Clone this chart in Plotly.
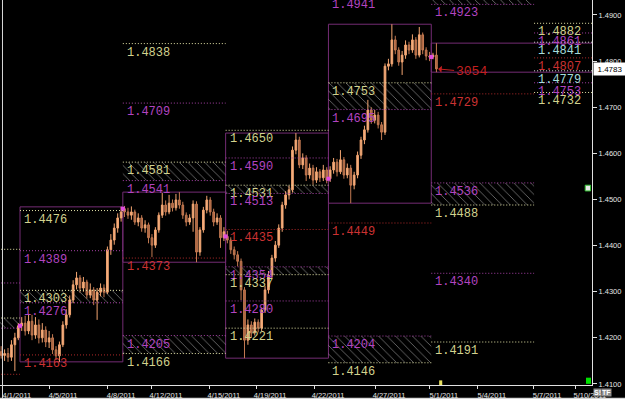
import plotly.graph_objects as go

# ---------------- data ----------------
# 4-hour candles (open, high, low, close)
w0_ohlc = [  # Fri 4/1 session (tail of the prior week)
    (1.4170, 1.4182, 1.4155, 1.4162), (1.4162, 1.4175, 1.4150, 1.4166),
    (1.4166, 1.4178, 1.4148, 1.4158), (1.4158, 1.4195, 1.4150, 1.4185),
    (1.4185, 1.4211, 1.4128, 1.4200), (1.4200, 1.4232, 1.4195, 1.4226),
]
w1_ohlc = [
    (1.4226, 1.4245, 1.4215, 1.4232), (1.4232, 1.4248, 1.4205, 1.4215),
    (1.4215, 1.4252, 1.4208, 1.4236), (1.4236, 1.4250, 1.4195, 1.4206),
    (1.4206, 1.4245, 1.4198, 1.4228), (1.4228, 1.4240, 1.4188, 1.4200),
    (1.4200, 1.4232, 1.4190, 1.4217), (1.4217, 1.4225, 1.4180, 1.4191),
    (1.4191, 1.4215, 1.4178, 1.4200), (1.4200, 1.4208, 1.4165, 1.4174),
    (1.4174, 1.4182, 1.4152, 1.4161), (1.4161, 1.4192, 1.4148, 1.4185),
    (1.4185, 1.4236, 1.4180, 1.4228), (1.4228, 1.4262, 1.4220, 1.4250),
    (1.4250, 1.4292, 1.4244, 1.4282), (1.4282, 1.4325, 1.4275, 1.4315),
    (1.4315, 1.4343, 1.4305, 1.4330), (1.4330, 1.4336, 1.4298, 1.4308),
    (1.4308, 1.4332, 1.4300, 1.4321), (1.4321, 1.4326, 1.4285, 1.4293),
    (1.4293, 1.4318, 1.4286, 1.4304), (1.4304, 1.4310, 1.4271, 1.4282),
    (1.4282, 1.4308, 1.4239, 1.4299), (1.4299, 1.4318, 1.4290, 1.4308),
    (1.4308, 1.4316, 1.4288, 1.4299), (1.4299, 1.4398, 1.4295, 1.4391),
    (1.4391, 1.4425, 1.4380, 1.4412), (1.4412, 1.4448, 1.4402, 1.4438),
    (1.4438, 1.4470, 1.4428, 1.4460), (1.4460, 1.4484, 1.4452, 1.4473),
]
w2_ohlc = [
    (1.4480, 1.4486, 1.4462, 1.4473), (1.4473, 1.4482, 1.4458, 1.4466),
    (1.4466, 1.4485, 1.4456, 1.4473), (1.4473, 1.4478, 1.4445, 1.4451),
    (1.4451, 1.4470, 1.4442, 1.4460), (1.4460, 1.4466, 1.4430, 1.4438),
    (1.4438, 1.4455, 1.4428, 1.4445), (1.4445, 1.4450, 1.4405, 1.4417),
    (1.4417, 1.4425, 1.4375, 1.4401), (1.4401, 1.4440, 1.4395, 1.4434),
    (1.4434, 1.4472, 1.4428, 1.4466), (1.4466, 1.4514, 1.4460, 1.4488),
    (1.4488, 1.4498, 1.4465, 1.4473), (1.4473, 1.4510, 1.4468, 1.4492),
    (1.4492, 1.4500, 1.4474, 1.4482), (1.4482, 1.4512, 1.4476, 1.4499),
    (1.4499, 1.4516, 1.4480, 1.4488), (1.4488, 1.4495, 1.4458, 1.4466),
    (1.4466, 1.4472, 1.4442, 1.4451), (1.4451, 1.4468, 1.4445, 1.4460),
    (1.4460, 1.4498, 1.4430, 1.4490), (1.4490, 1.4496, 1.4364, 1.4386),
    (1.4386, 1.4440, 1.4378, 1.4434), (1.4434, 1.4484, 1.4428, 1.4477),
    (1.4477, 1.4508, 1.4470, 1.4499), (1.4499, 1.4505, 1.4465, 1.4473),
    (1.4473, 1.4480, 1.4442, 1.4451), (1.4451, 1.4470, 1.4445, 1.4460),
    (1.4460, 1.4466, 1.4395, 1.4417), (1.4417, 1.4440, 1.4410, 1.4430),
]
w3_ohlc = [
    (1.4420, 1.4432, 1.4405, 1.4412), (1.4412, 1.4418, 1.4382, 1.4391),
    (1.4391, 1.4398, 1.4370, 1.4380), (1.4380, 1.4388, 1.4355, 1.4366),
    (1.4366, 1.4372, 1.4282, 1.4304), (1.4304, 1.4310, 1.4156, 1.4195),
    (1.4195, 1.4240, 1.4185, 1.4228), (1.4228, 1.4236, 1.4200, 1.4211),
    (1.4211, 1.4242, 1.4205, 1.4234), (1.4234, 1.4240, 1.4212, 1.4221),
    (1.4221, 1.4266, 1.4215, 1.4260), (1.4260, 1.4312, 1.4254, 1.4304),
    (1.4304, 1.4345, 1.4296, 1.4336), (1.4336, 1.4380, 1.4328, 1.4373),
    (1.4373, 1.4410, 1.4365, 1.4401), (1.4401, 1.4446, 1.4395, 1.4438),
    (1.4438, 1.4495, 1.4430, 1.4488), (1.4488, 1.4518, 1.4480, 1.4510),
    (1.4510, 1.4530, 1.4500, 1.4521), (1.4521, 1.4615, 1.4515, 1.4607),
    (1.4607, 1.4644, 1.4598, 1.4629), (1.4629, 1.4636, 1.4568, 1.4575),
    (1.4575, 1.4600, 1.4566, 1.4590), (1.4590, 1.4596, 1.4540, 1.4553),
    (1.4553, 1.4578, 1.4545, 1.4568), (1.4568, 1.4575, 1.4532, 1.4542),
    (1.4542, 1.4570, 1.4536, 1.4560), (1.4560, 1.4566, 1.4538, 1.4547),
    (1.4547, 1.4575, 1.4540, 1.4564), (1.4564, 1.4570, 1.4535, 1.4542),
]
w4_ohlc = [
    (1.4545, 1.4572, 1.4538, 1.4564), (1.4564, 1.4590, 1.4556, 1.4581),
    (1.4581, 1.4588, 1.4550, 1.4560), (1.4560, 1.4607, 1.4555, 1.4586),
    (1.4586, 1.4592, 1.4545, 1.4553), (1.4553, 1.4578, 1.4546, 1.4568),
    (1.4568, 1.4575, 1.4492, 1.4531), (1.4531, 1.4560, 1.4522, 1.4553),
    (1.4553, 1.4604, 1.4546, 1.4596), (1.4596, 1.4636, 1.4588, 1.4629),
    (1.4629, 1.4660, 1.4620, 1.4651), (1.4651, 1.4716, 1.4645, 1.4694),
    (1.4694, 1.4700, 1.4664, 1.4672), (1.4672, 1.4694, 1.4665, 1.4683),
    (1.4683, 1.4690, 1.4654, 1.4662), (1.4662, 1.4668, 1.4629, 1.4646),
    (1.4646, 1.4795, 1.4640, 1.4789), (1.4789, 1.4805, 1.4780, 1.4794),
    (1.4794, 1.4880, 1.4788, 1.4846), (1.4846, 1.4855, 1.4815, 1.4824),
    (1.4824, 1.4830, 1.4790, 1.4798), (1.4798, 1.4822, 1.4770, 1.4813),
    (1.4813, 1.4845, 1.4805, 1.4835), (1.4835, 1.4842, 1.4815, 1.4824),
    (1.4824, 1.4858, 1.4818, 1.4846), (1.4846, 1.4852, 1.4805, 1.4813),
    (1.4813, 1.4874, 1.4808, 1.4857), (1.4857, 1.4862, 1.4815, 1.4824),
    (1.4824, 1.4830, 1.4802, 1.4811), (1.4811, 1.4820, 1.4800, 1.4809),
]
w5_ohlc = [
    (1.4809, 1.4818, 1.4804, 1.4813), (1.4813, 1.4839, 1.4776, 1.4783),
]

# projected weekly levels (price, kind)
lv_w0 = [(1.4392, "upper"), (1.4319, "mid"), (1.4243, "upper"), (1.4221, "mid"), (1.4121, "pivot")]
lv_w1 = [(1.4476, "upper"), (1.4389, "mid"), (1.4303, "upper"), (1.4276, "mid"), (1.4163, "pivot")]
lv_w2 = [(1.4838, "upper"), (1.4709, "mid"), (1.4581, "upper"), (1.4541, "mid"),
         (1.4373, "pivot"), (1.4205, "mid"), (1.4166, "upper")]
lv_w3 = [(1.4650, "upper"), (1.4590, "mid"), (1.4531, "upper"), (1.4513, "mid"), (1.4435, "pivot"),
         (1.4354, "mid"), (1.4337, "upper"), (1.4280, "mid"), (1.4221, "upper")]
lv_w4 = [(1.4941, "mid"), (1.4753, "upper"), (1.4695, "mid"), (1.4449, "pivot"),
         (1.4204, "mid"), (1.4146, "upper")]
lv_w5 = [(1.4923, "mid"), (1.4729, "pivot"), (1.4536, "mid"), (1.4488, "upper"),
         (1.4340, "mid"), (1.4191, "upper")]
lv_month = [(1.4882, "upper"), (1.4861, "mid"), (1.4841, "alt"), (1.4807, "pivot"),
            (1.4779, "alt"), (1.4753, "mid"), (1.4732, "upper")]

# hatched zones (top, bottom)
zn_w0 = [(1.4243, 1.4221)]
zn_w1 = [(1.4303, 1.4276)]
zn_w2 = [(1.4581, 1.4541), (1.4205, 1.4166)]
zn_w3 = [(1.4531, 1.4513), (1.4354, 1.4337)]
zn_w4 = [(1.4753, 1.4695), (1.4204, 1.4146)]
zn_w5 = [(1.4965, 1.4923), (1.4536, 1.4488)]

date_labels = ["4/1/2011", "4/5/2011", "4/8/2011", "4/12/2011", "4/15/2011", "4/19/2011",
               "4/22/2011", "4/27/2011", "5/1/2011", "5/4/2011", "5/7/2011", "5/10/2011"]
date_bar = [-5.0, 8.5, 25.4, 38.5, 55.4, 68.9, 85.8, 103.6, 119.6, 133.6, 149.7, 162.2]
price_ticks = [1.41, 1.42, 1.43, 1.44, 1.45, 1.46, 1.47, 1.48, 1.49]
last_price = 1.4783
arrow_text = "3054"

# ---------------- build ----------------
BARS = 30
weeks = [w0_ohlc, w1_ohlc, w2_ohlc, w3_ohlc, w4_ohlc, w5_ohlc]
first_slot = [24, 0, 0, 0, 0, 0]
week_levels = [lv_w0, lv_w1, lv_w2, lv_w3, lv_w4, lv_w5]
week_zones = [zn_w0, zn_w1, zn_w2, zn_w3, zn_w4, zn_w5]

X_MIN, X_MAX = -5.84, 166.9
Y_MIN, Y_MAX = 1.40978, 1.49325
PX_PER_UNIT = 385 / (Y_MAX - Y_MIN)

LINE_COL = {"upper": "#e2e2a6", "mid": "#a640a6", "pivot": "#b02a2a", "alt": "#dcdcdc"}
TEXT_COL = {"upper": "#d2d28e", "mid": "#b244c0", "pivot": "#cc3232", "alt": "#a6dcdc"}
BOX_COL = "#742c74"
LBL_FONT = "Liberation Mono"

xs, o, h, l, c = [], [], [], [], []
for w, data in enumerate(weeks):
    start = (w - 1) * BARS + first_slot[w]
    for k, (O, H, L, C) in enumerate(data):
        xs.append(start + k + 0.5)
        o.append(O); h.append(H); l.append(L); c.append(C)

fig = go.Figure()

# hatched zones
for w, zl in enumerate(week_zones):
    x0 = (w - 1) * BARS
    for top, bot in zl:
        fig.add_trace(go.Bar(
            x=[x0 + BARS / 2], y=[top - bot], base=[bot], width=[BARS],
            marker=dict(color="rgba(0,0,0,0)", line=dict(width=0),
                        pattern=dict(shape="\\", fgcolor="#e4e4e4", bgcolor="rgba(0,0,0,0)",
                                     size=6, solidity=0.14, fillmode="overlay")),
            hoverinfo="skip"))

fig.add_trace(go.Candlestick(
    x=xs, open=o, high=h, low=l, close=c, whiskerwidth=0,
    increasing=dict(line=dict(color="#f2a470", width=1), fillcolor="#f4b184"),
    decreasing=dict(line=dict(color="#c47a52", width=1), fillcolor="#a8623e"),
    hoverinfo="skip"))

# week open markers
wk_x, wk_y = [], []
for w in range(1, len(weeks)):
    wk_x.append((w - 1) * BARS)
    wk_y.append(weeks[w][0][0])
fig.add_trace(go.Scatter(x=wk_x, y=wk_y, mode="markers", cliponaxis=False,
                         marker=dict(symbol="square", size=4, color="#e04ce0"), hoverinfo="skip"))

shapes, annos = [], []

# weekly range boxes
for w in range(1, len(weeks)):
    x0 = (w - 1) * BARS
    x1 = x0 + BARS if w < len(weeks) - 1 else X_MAX + 5
    hi = max(t[1] for t in weeks[w]); lo = min(t[2] for t in weeks[w])
    shapes.append(dict(type="rect", xref="x", yref="y", x0=x0, x1=x1, y0=lo, y1=hi,
                       line=dict(color=BOX_COL, width=1), fillcolor="rgba(0,0,0,0)", layer="below"))


def add_levels(levels, x0, x1, labels=True):
    for price, kind in levels:
        shapes.append(dict(type="line", xref="x", yref="y", x0=x0, x1=x1, y0=price, y1=price,
                           line=dict(color=LINE_COL[kind], width=1, dash="1px,2px")))
        if not labels:
            continue
        ya, ys = price, 0
        if price > Y_MAX:
            ya, ys = Y_MAX, (price - Y_MAX) * PX_PER_UNIT
        annos.append(dict(x=x0, y=ya, xref="x", yref="y", xanchor="left", yanchor="top",
                          xshift=2, yshift=ys, showarrow=False, text=f"{price:.4f}",
                          font=dict(family=LBL_FONT, size=12, color=TEXT_COL[kind])))


for w, lv in enumerate(week_levels):
    x0 = (w - 1) * BARS
    add_levels(lv, x0, x0 + BARS, labels=x0 >= X_MIN)
add_levels(lv_month, 5 * BARS, X_MAX + 5)

# last price arrow
annos.append(dict(x=xs[-1] + 0.5, y=c[-1], xref="x", yref="y", text=arrow_text, showarrow=True,
                  ax=33, ay=3, arrowcolor="#c42020", arrowwidth=1, arrowhead=1, arrowsize=1.2,
                  standoff=0, font=dict(family=LBL_FONT, size=13, color="#c42020")))
# last price box
annos.append(dict(x=1, y=last_price, xref="paper", yref="y", xanchor="left", xshift=1,
                  text=f"{last_price:.4f}", showarrow=False, bgcolor="#ffffff", width=30, height=10,
                  font=dict(family="Arial", size=8, color="#000000")))
# corner buttons
for txt, dx in (("S!", 1), ("TF", 9)):
    annos.append(dict(x=1, y=0, xref="paper", yref="paper", xanchor="left", yanchor="top",
                      xshift=dx, yshift=-3, text=f"<b>{txt}</b>", showarrow=False,
                      bgcolor="#8c8c8c", borderpad=0,
                      font=dict(family="Arial", size=7, color="#ffffff")))

# decorations
shapes.append(dict(type="line", xref="paper", yref="paper", x0=0.0042, x1=0.0042, y0=-0.04, y1=1,
                   line=dict(color="#d8d8d8", width=1)))
shapes.append(dict(type="rect", xref="paper", yref="paper", x0=0.9899, x1=0.9983, y0=0.003, y1=0.019,
                   fillcolor="#00e000", line=dict(width=0)))
shapes.append(dict(type="rect", xref="paper", yref="paper", x0=0.9885, x1=0.9975, y0=0.504, y1=0.519,
                   fillcolor="#e8e8e8", line=dict(color="#30c030", width=1)))
shapes.append(dict(type="rect", xref="x", yref="paper", x0=122.3, x1=123.2, y0=0, y1=0.012,
                   fillcolor="#e8e060", line=dict(width=0)))
shapes.append(dict(type="rect", xref="paper", yref="paper", x0=-0.01, x1=1.06, y0=-0.04, y1=-0.033,
                   fillcolor="#d8d8d8", line=dict(width=0)))

fig.update_layout(
    width=625, height=399, margin=dict(l=0, r=33, t=0, b=14),
    paper_bgcolor="#000000", plot_bgcolor="#000000", showlegend=False,
    barmode="overlay", shapes=shapes, annotations=annos,
    xaxis=dict(range=[X_MIN, X_MAX], rangeslider=dict(visible=False), showgrid=False, zeroline=False,
               showline=True, linecolor="#e0e0e0", linewidth=1, ticks="outside", ticklen=3,
               tickcolor="#e0e0e0", tickvals=date_bar, ticktext=date_labels, ticklabelshift=14,
               tickfont=dict(family="Arial", size=7.5, color="#e4e4e4")),
    yaxis=dict(range=[Y_MIN, Y_MAX], side="right", showgrid=False, zeroline=False,
               showline=True, linecolor="#e0e0e0", linewidth=1, ticks="outside", ticklen=4,
               tickcolor="#e0e0e0", tickvals=price_ticks, tickformat=".4f",
               tickfont=dict(family="Arial", size=7.5, color="#e4e4e4")),
)

fig.write_html("out.html")
